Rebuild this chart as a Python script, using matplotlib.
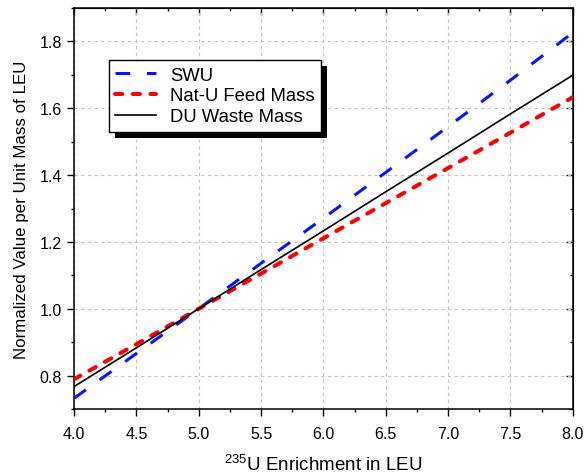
import matplotlib
matplotlib.use('Agg')
import matplotlib.pyplot as plt
from matplotlib.ticker import MultipleLocator
from matplotlib.patches import Rectangle

plt.rcParams['font.family'] = 'Liberation Sans'
plt.rcParams['mathtext.fontset'] = 'custom'
plt.rcParams['mathtext.rm'] = 'Liberation Sans'

# enrichment of the LEU product (wt% U-235)
enrich = [4.0, 4.5, 5.0, 5.5, 6.0, 6.5, 7.0, 7.5, 8.0]
# values normalized to 5% LEU
swu = [0.732, 0.866, 1.0, 1.136, 1.271, 1.408, 1.545, 1.684, 1.826]
feed = [0.789, 0.894, 1.0, 1.105, 1.211, 1.316, 1.421, 1.527, 1.633]
waste = [0.767, 0.883, 1.0, 1.117, 1.233, 1.350, 1.466, 1.583, 1.699]

fig = plt.figure(figsize=(5.85, 4.77), dpi=100)
ax = fig.add_axes([0.1265, 0.1405, 0.8525, 0.8405])

ax.plot(enrich, swu, color='#0a14ff', lw=2.2, ls=(0, (4.8, 5.5)), label='SWU', zorder=3)
ax.plot(enrich, feed, color='#ff0000', lw=2.9, ls=(0, (1.8, 2.6)),
        dash_capstyle='round', label='Nat-U Feed Mass', zorder=3)
ax.plot(enrich, waste, color='black', lw=1.2, label='DU Waste Mass', zorder=4)

ax.set_xlim(4.0, 8.0)
ax.set_ylim(0.7, 1.9)
ax.xaxis.set_major_locator(MultipleLocator(0.5))
ax.xaxis.set_minor_locator(MultipleLocator(0.25))
ax.yaxis.set_major_locator(MultipleLocator(0.2))
ax.yaxis.set_minor_locator(MultipleLocator(0.1))
ax.xaxis.set_major_formatter(lambda v, p: '%.1f' % v)
ax.yaxis.set_major_formatter(lambda v, p: '%.1f' % v)
ax.grid(True, which='major', color='#c4c4c4', ls=(0, (3, 3)), lw=0.8)
ax.set_axisbelow(True)

for s in ax.spines.values():
    s.set_linewidth(1.1)
ax.tick_params(which='both', direction='out', width=1.0, labelsize=11.5, colors='black')
ax.tick_params(which='major', length=5)
ax.tick_params(which='minor', length=2.5)
ax.tick_params(axis='x', pad=7)

# mirrored ticks pointing inward on top and right
top = ax.secondary_xaxis('top')
top.xaxis.set_major_locator(MultipleLocator(0.5))
top.xaxis.set_minor_locator(MultipleLocator(0.25))
top.tick_params(which='both', direction='in', labeltop=False, width=1.0)
top.tick_params(which='major', length=5)
top.tick_params(which='minor', length=2.5)
right = ax.secondary_yaxis('right')
right.yaxis.set_major_locator(MultipleLocator(0.2))
right.yaxis.set_minor_locator(MultipleLocator(0.1))
right.tick_params(which='both', direction='in', labelright=False, width=1.0)
right.tick_params(which='major', length=5)
right.tick_params(which='minor', length=2.5)

ax.set_xlabel(r'$^{235}$U Enrichment in LEU', fontsize=13.5, labelpad=9)
ax.set_ylabel('Normalized Value per Unit Mass of LEU', fontsize=12.2, labelpad=8)

leg = ax.legend(loc='upper left', bbox_to_anchor=(0.070, 0.870), fontsize=13.3,
                frameon=True, fancybox=False, edgecolor='black', framealpha=1,
                handlelength=2.2, handletextpad=0.75, labelspacing=0.2,
                borderpad=0.35, borderaxespad=0)
leg.get_frame().set_linewidth(1.0)

# solid black drop shadow behind the legend box
fig.canvas.draw()
bb = leg.get_window_extent()
ax.add_patch(Rectangle((bb.x0 + 6, bb.y0 - 6), bb.width, bb.height,
                       transform=None, facecolor='black', edgecolor='none',
                       zorder=4.9, clip_on=False))

fig.savefig('out.png', dpi=100)
